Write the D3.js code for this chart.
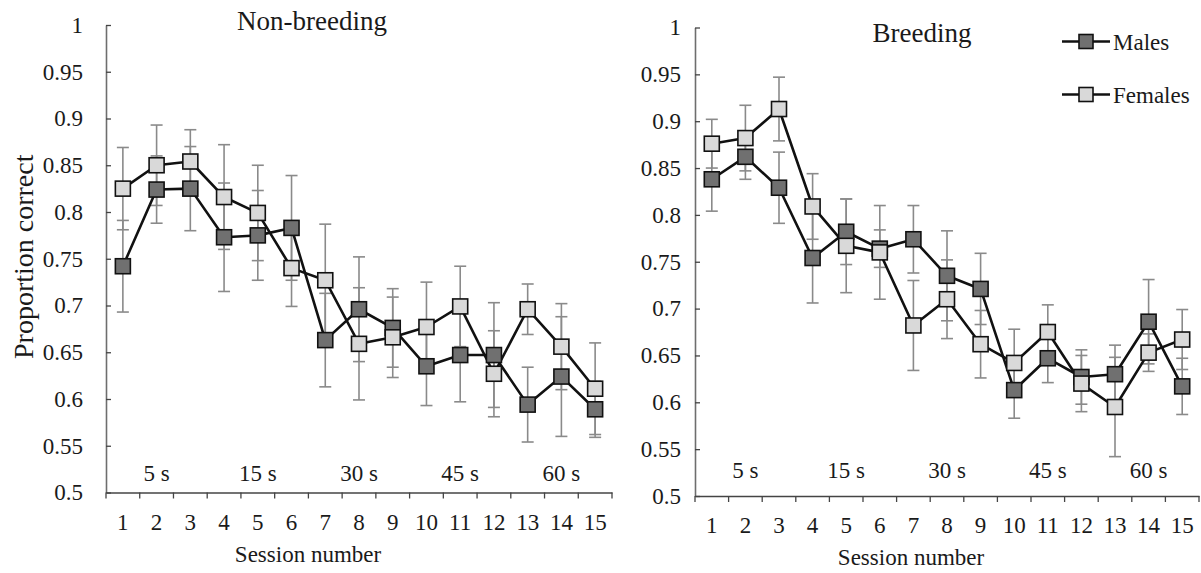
<!DOCTYPE html>
<html>
<head>
<meta charset="utf-8">
<script src="https://cdn.jsdelivr.net/npm/d3@7"></script>
<style>
  body { margin: 0; background: #fff; }
  svg text { font-family: "Liberation Serif", "Times New Roman", serif; fill: #1a1a1a; }
</style>
</head>
<body>
<div id="chart"></div>
<script>
// sessions and labels
var sessions = d3.range(1, 16);
var yTicks = [0.5, 0.55, 0.6, 0.65, 0.7, 0.75, 0.8, 0.85, 0.9, 0.95, 1];
var intervalLabels = ["5 s", "15 s", "30 s", "45 s", "60 s"];
var intervalSessions = [2, 5, 8, 11, 14];

// Non-breeding
var nbMales   = [0.742, 0.824, 0.825, 0.773, 0.775, 0.783, 0.663, 0.696, 0.676, 0.635, 0.647, 0.647, 0.594, 0.624, 0.589];
var nbMalesSE = [0.049, 0.036, 0.045, 0.058, 0.048, 0.056, 0.050, 0.056, 0.042, 0.042, 0.050, 0.056, 0.040, 0.064, 0.030];
var nbFemales   = [0.825, 0.850, 0.854, 0.816, 0.799, 0.740, 0.727, 0.659, 0.666, 0.677, 0.699, 0.627, 0.696, 0.656, 0.611];
var nbFemalesSE = [0.044, 0.043, 0.034, 0.056, 0.051, 0.041, 0.060, 0.060, 0.043, 0.048, 0.043, 0.046, 0.027, 0.046, 0.049];

// Breeding
var brMales   = [0.838, 0.862, 0.829, 0.754, 0.782, 0.764, 0.774, 0.735, 0.721, 0.613, 0.647, 0.627, 0.630, 0.686, 0.617];
var brMalesSE = [0.034, 0.024, 0.038, 0.048, 0.035, 0.020, 0.036, 0.048, 0.038, 0.030, 0.026, 0.029, 0.031, 0.045, 0.030];
var brFemales   = [0.876, 0.882, 0.913, 0.809, 0.767, 0.760, 0.682, 0.710, 0.662, 0.642, 0.675, 0.620, 0.595, 0.653, 0.667];
var brFemalesSE = [0.026, 0.035, 0.034, 0.035, 0.050, 0.050, 0.048, 0.042, 0.036, 0.036, 0.029, 0.030, 0.053, 0.020, 0.032];

var maleFill = "#707070", femaleFill = "#d9d9d9";
var serif = "Liberation Serif, Times New Roman, serif";

var panels = [
  { title: "Non-breeding", x0: 106, x1: 612, yTop: 25, yBot: 492.5, titleX: 312, titleY: 29.5,
    labelPad: 23, sessionX: 308, intervalY: 481, showYTitle: true,
    males: nbMales, malesSE: nbMalesSE, females: nbFemales, femalesSE: nbFemalesSE },
  { title: "Breeding", x0: 695, x1: 1199, yTop: 27.5, yBot: 496, titleX: 922, titleY: 42,
    labelPad: 14, sessionX: 911, intervalY: 478, showYTitle: false,
    males: brMales, malesSE: brMalesSE, females: brFemales, femalesSE: brFemalesSE }
];

var svg = d3.select("#chart").append("svg")
  .attr("width", 1201)
  .attr("height", 573);

panels.forEach(function (p) {
  var x = d3.scaleBand().domain(sessions).range([p.x0, p.x1]);
  var y = d3.scaleLinear().domain([0.5, 1]).range([p.yBot, p.yTop]);
  var g = svg.append("g");

  // y axis, ticks pointing inward
  var ya = g.append("g")
    .attr("transform", "translate(" + p.x0 + ",0)")
    .call(d3.axisLeft(y).tickValues(yTicks).tickSizeInner(-5).tickSizeOuter(0)
      .tickPadding(p.labelPad).tickFormat(function (d) { return String(+d.toFixed(2)); }))
    .attr("font-family", serif);
  ya.select(".domain").attr("stroke", "#6e6e6e").attr("stroke-width", 1.6);
  ya.selectAll(".tick line").attr("stroke", "#444").attr("stroke-width", 1.3);
  ya.selectAll(".tick text").style("font-size", "23px").attr("fill", "#1a1a1a");

  // x axis: labels centred on sessions, tick marks on band edges
  var xa = g.append("g")
    .attr("transform", "translate(0," + p.yBot + ")")
    .call(d3.axisBottom(x).tickSize(0).tickPadding(21))
    .attr("font-family", serif);
  xa.select(".domain").attr("stroke", "#444").attr("stroke-width", 1.6);
  xa.selectAll(".tick text").style("font-size", "23px").attr("fill", "#1a1a1a");

  var edges = sessions.map(function (s) { return x(s); }).concat([x.range()[1]]);
  g.selectAll(".xedge")
    .data(edges)
    .enter().append("line")
    .attr("x1", function (d) { return d; })
    .attr("x2", function (d) { return d; })
    .attr("y1", p.yBot)
    .attr("y2", p.yBot + 6)
    .attr("stroke", "#444")
    .attr("stroke-width", 1.3);

  // interval labels
  g.selectAll(".interval")
    .data(intervalLabels)
    .enter().append("text")
    .attr("x", function (d, i) { return x(intervalSessions[i]) + x.bandwidth() / 2; })
    .attr("y", p.intervalY)
    .attr("text-anchor", "middle")
    .style("font-size", "23px")
    .text(function (d) { return d; });

  // title
  g.append("text")
    .attr("x", p.titleX)
    .attr("y", p.titleY)
    .attr("text-anchor", "middle")
    .style("font-size", "27px")
    .text(p.title);

  g.append("text")
    .attr("x", p.sessionX)
    .attr("y", p.yBot + 69)
    .attr("text-anchor", "middle")
    .style("font-size", "23px")
    .text("Session number");

  if (p.showYTitle) {
    g.append("text")
      .attr("transform", "translate(33," + ((p.yTop + p.yBot) / 2 - 2) + ") rotate(-90)")
      .attr("text-anchor", "middle")
      .style("font-size", "28px")
      .text("Proportion correct");
  }

  var cx = function (d, i) { return x(sessions[i]) + x.bandwidth() / 2; };

  var series = [
    { vals: p.males, se: p.malesSE, fill: maleFill },
    { vals: p.females, se: p.femalesSE, fill: femaleFill }
  ];

  // error bars first
  series.forEach(function (s) {
    var eb = g.append("g").attr("stroke", "#8a8a8a").attr("stroke-width", 1.6);
    s.vals.forEach(function (v, i) {
      var xc = cx(v, i), t = y(v + s.se[i]), b = y(v - s.se[i]);
      eb.append("line").attr("x1", xc).attr("x2", xc).attr("y1", t).attr("y2", b);
      eb.append("line").attr("x1", xc - 6).attr("x2", xc + 6).attr("y1", t).attr("y2", t);
      eb.append("line").attr("x1", xc - 6).attr("x2", xc + 6).attr("y1", b).attr("y2", b);
    });
  });

  series.forEach(function (s) {
    var line = d3.line()
      .x(function (d, i) { return cx(d, i); })
      .y(function (d) { return y(d); });
    g.append("path")
      .datum(s.vals)
      .attr("d", line)
      .attr("fill", "none")
      .attr("stroke", "#111")
      .attr("stroke-width", 2.6)
      .attr("stroke-linejoin", "round");
  });

  series.forEach(function (s) {
    g.selectAll(null)
      .data(s.vals)
      .enter().append("rect")
      .attr("x", function (d, i) { return cx(d, i) - 7.5; })
      .attr("y", function (d) { return y(d) - 7.5; })
      .attr("width", 15)
      .attr("height", 15)
      .attr("fill", s.fill)
      .attr("stroke", "#111")
      .attr("stroke-width", 1.6);
  });
});

// legend
var legendItems = [
  { label: "Males", fill: maleFill, y: 41.5 },
  { label: "Females", fill: femaleFill, y: 94.5 }
];
var lg = svg.append("g");
legendItems.forEach(function (d) {
  lg.append("line")
    .attr("x1", 1062).attr("x2", 1110)
    .attr("y1", d.y).attr("y2", d.y)
    .attr("stroke", "#111").attr("stroke-width", 2.6);
  lg.append("rect")
    .attr("x", 1079).attr("y", d.y - 7)
    .attr("width", 14).attr("height", 14)
    .attr("fill", d.fill)
    .attr("stroke", "#111").attr("stroke-width", 1.6);
  lg.append("text")
    .attr("x", 1113).attr("y", d.y + 8)
    .style("font-size", "23px")
    .text(d.label);
});
</script>
</body>
</html>
